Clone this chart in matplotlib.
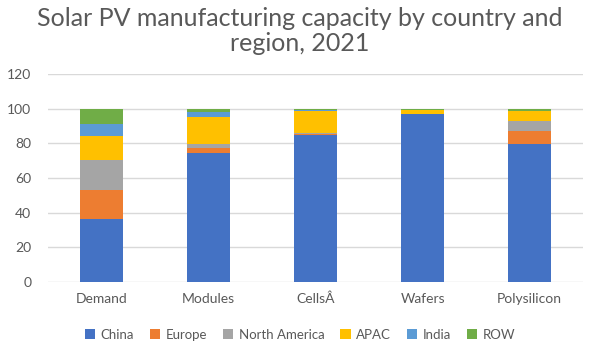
import matplotlib.pyplot as plt
import numpy as np

# data (% share of capacity)
categories = ["Demand", "Modules", "CellsÂ", "Wafers", "Polysilicon"]
regions = ["China", "Europe", "North America", "APAC", "India", "ROW"]

china = [36.5, 74.5, 84.7, 97.0, 79.7]
europe = [16.5, 2.7, 0.9, 0.0, 7.5]
north_america = [17.5, 2.5, 0.6, 0.0, 5.5]
apac = [13.5, 15.3, 12.3, 2.4, 6.3]
india = [7.0, 2.9, 0.7, 0.1, 0.0]
row = [9.0, 2.1, 0.8, 0.5, 1.0]

colors = ["#4472C4", "#ED7D31", "#A5A5A5", "#FFC000", "#5B9BD5", "#70AD47"]
TEXT = "#595959"

plt.rcParams["font.family"] = ["Lato", "DejaVu Sans"]

fig = plt.figure(figsize=(6, 3.6), dpi=100)
ax = fig.add_axes([0.08, 0.217, 0.892, 0.577])

series = [china, europe, north_america, apac, india, row]
x = np.arange(len(categories))
bottom = np.zeros(len(categories))
for name, vals, col in zip(regions, series, colors):
    ax.bar(x, vals, width=0.4, bottom=bottom, color=col, label=name, zorder=3)
    bottom += np.array(vals)

ax.set_xlim(-0.5, len(categories) - 0.5)
ax.set_ylim(0, 120)
ax.set_yticks(range(0, 121, 20))
ax.set_xticks(x)
ax.set_xticklabels(categories)
ax.tick_params(axis="both", length=0, colors=TEXT, labelsize=10)
ax.tick_params(axis="y", pad=12)
ax.tick_params(axis="x", pad=8)
ax.grid(axis="y", color="#D9D9D9", linewidth=1, zorder=0)
for s in ax.spines.values():
    s.set_visible(False)

fig.text(0.5, 0.913, "Solar PV manufacturing capacity by country and\nregion, 2021",
         ha="center", va="center", fontsize=18, color=TEXT, linespacing=1.1)

fig.legend(loc="center", bbox_to_anchor=(0.5, 0.07), ncol=6, frameon=False,
           fontsize=9.5, handlelength=0.8, handleheight=0.8, handletextpad=0.4,
           columnspacing=1.2, labelcolor=TEXT)

fig.savefig("out.png", dpi=100)
